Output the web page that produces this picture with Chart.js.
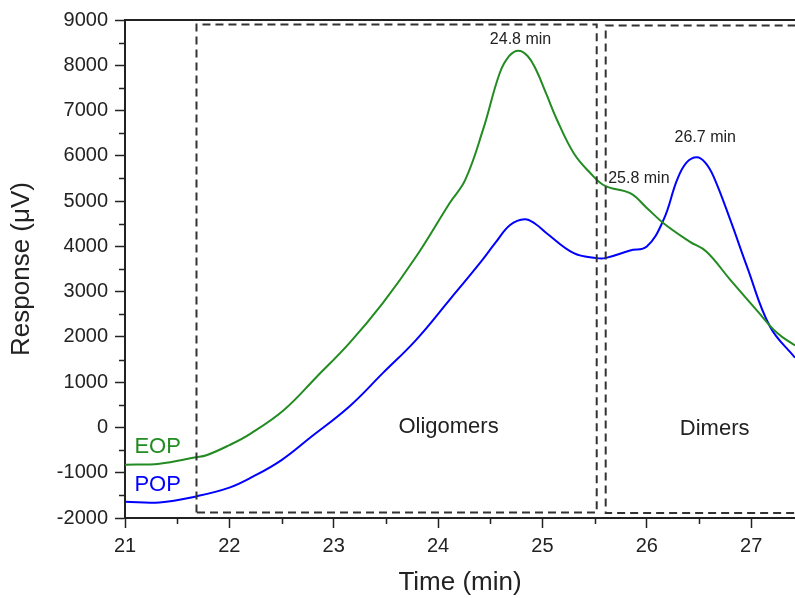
<!DOCTYPE html>
<html>
<head>
<meta charset="utf-8">
<script src="https://cdn.jsdelivr.net/npm/chart.js@4.4.1/dist/chart.umd.min.js"></script>
<style>
  html, body { margin: 0; padding: 0; background: #fff; }
  #wrap { width: 795px; height: 598px; }
</style>
</head>
<body>
<div id="wrap"><canvas id="gpc" width="795" height="598"></canvas></div>
<script>
// retention time (min) and detector response (µV)
const eopTime = [21.0, 21.33, 21.68, 21.78, 22.0, 22.2, 22.52, 22.84, 23.15, 23.47, 23.79, 24.11, 24.26, 24.43, 24.59, 24.68, 24.77, 24.86, 24.94, 25.04, 25.14, 25.3, 25.46, 25.6, 25.84, 26.0, 26.16, 26.41, 26.57, 26.8, 27.05, 27.25, 27.42];
const eopResp = [-823, -800, -660, -615, -390, -140, 380, 1126, 1863, 2746, 3775, 4954, 5468, 6572, 7823, 8200, 8322, 8200, 7896, 7350, 6792, 6057, 5616, 5335, 5174, 4850, 4512, 4106, 3885, 3260, 2598, 2084, 1810];

const popTime = [21.0, 21.33, 21.68, 22.0, 22.23, 22.5, 22.77, 23.15, 23.47, 23.79, 24.11, 24.4, 24.55, 24.69, 24.83, 24.93, 25.04, 25.3, 25.52, 25.6, 25.84, 26.0, 26.16, 26.29, 26.38, 26.48, 26.56, 26.64, 26.8, 26.96, 27.18, 27.42];
const popResp = [-1640, -1655, -1523, -1330, -1082, -720, -234, 464, 1200, 1936, 2818, 3629, 4080, 4470, 4600, 4500, 4291, 3850, 3740, 3740, 3908, 3996, 4585, 5468, 5850, 5969, 5850, 5541, 4585, 3554, 2230, 1540];

// dashed fraction windows
const oligoBoxT = [21.685, 21.685, 25.52, 25.52, 21.685];
const oligoBoxR = [-1880, 8900, 8900, -1880, -1880];
const dimerBoxT = [27.8, 25.606, 25.606, 27.8];
const dimerBoxR = [8880, 8880, -1890, -1890];

// text labels placed in data coordinates
const noteText = ["24.8 min", "26.7 min", "25.8 min"];
const noteT = [24.79, 26.56, 25.63];
const noteR = [8560, 6395, 5490];
const regionText = ["Oligomers", "Dimers"];
const regionT = [24.1, 26.65];
const regionR = [15, -30];
const seriesText = ["EOP", "POP"];
const seriesT = [21.09, 21.09];
const seriesR = [-420, -1265];

const xTicks = [21, 22, 23, 24, 25, 26, 27];

function pts(xs, ys) {
  return xs.map((x, i) => ({ x: x, y: ys[i] }));
}

const ink = "#222";
const font = "'Liberation Sans', Arial, sans-serif";

const extras = {
  id: "extras",
  afterDraw(chart) {
    const ctx = chart.ctx;
    const xs = chart.scales.x, ys = chart.scales.y;
    const a = chart.chartArea;
    ctx.save();
    // top frame line
    ctx.strokeStyle = ink;
    ctx.lineWidth = 2;
    ctx.beginPath();
    ctx.moveTo(a.left, a.top);
    ctx.lineTo(a.right, a.top);
    ctx.stroke();
    // minor ticks
    ctx.lineWidth = 1.5;
    ctx.beginPath();
    for (let v = -1500; v < 9000; v += 1000) {
      const py = Math.round(ys.getPixelForValue(v)) + 0.5;
      ctx.moveTo(a.left - 6, py);
      ctx.lineTo(a.left, py);
    }
    for (let v = 21.5; v < xs.max; v += 1) {
      const px = Math.round(xs.getPixelForValue(v)) + 0.5;
      ctx.moveTo(px, a.bottom);
      ctx.lineTo(px, a.bottom + 6);
    }
    ctx.stroke();

    ctx.textBaseline = "middle";
    ctx.fillStyle = ink;
    ctx.font = "16px " + font;
    noteText.forEach((t, i) => {
      ctx.textAlign = i === 2 ? "left" : "center";
      ctx.fillText(t, xs.getPixelForValue(noteT[i]), ys.getPixelForValue(noteR[i]));
    });
    ctx.textAlign = "center";
    ctx.font = "22px " + font;
    regionText.forEach((t, i) => {
      ctx.fillText(t, xs.getPixelForValue(regionT[i]), ys.getPixelForValue(regionR[i]));
    });
    ctx.textAlign = "left";
    const seriesColor = ["#228B22", "#0000ff"];
    seriesText.forEach((t, i) => {
      ctx.fillStyle = seriesColor[i];
      ctx.fillText(t, xs.getPixelForValue(seriesT[i]), ys.getPixelForValue(seriesR[i]));
    });
    ctx.restore();
  }
};

const boxStyle = {
  borderColor: "#333",
  borderWidth: 2,
  borderDash: [8, 5],
  pointRadius: 0,
  tension: 0,
  fill: false
};

new Chart(document.getElementById("gpc"), {
  type: "line",
  data: {
    datasets: [
      Object.assign({ label: "oligomers", data: pts(oligoBoxT, oligoBoxR) }, boxStyle),
      Object.assign({ label: "dimers", data: pts(dimerBoxT, dimerBoxR) }, boxStyle),
      {
        label: "EOP",
        data: pts(eopTime, eopResp),
        borderColor: "#228B22",
        borderWidth: 2,
        pointRadius: 0,
        tension: 0.4,
        fill: false
      },
      {
        label: "POP",
        data: pts(popTime, popResp),
        borderColor: "#0000ff",
        borderWidth: 2,
        pointRadius: 0,
        tension: 0.4,
        fill: false
      }
    ]
  },
  options: {
    responsive: false,
    animation: false,
    layout: { padding: { top: 20, right: 0, left: 0, bottom: 0 } },
    plugins: {
      legend: { display: false },
      tooltip: { enabled: false }
    },
    scales: {
      x: {
        type: "linear",
        min: 21,
        max: 27.42,
        afterBuildTicks: s => { s.ticks = xTicks.map(v => ({ value: v })); },
        afterFit: s => { s.height = 80; },
        ticks: { color: ink, font: { size: 20, family: font }, padding: 6, maxRotation: 0 },
        grid: { drawOnChartArea: false, drawTicks: true, tickLength: 10, tickColor: ink, tickWidth: 1.5 },
        border: { display: true, color: ink, width: 2 },
        title: { display: true, text: "Time (min)", color: ink, font: { size: 26, family: font }, padding: 0 }
      },
      y: {
        min: -2000,
        max: 9000,
        afterFit: s => { s.width = 125; },
        ticks: {
          stepSize: 1000,
          color: ink,
          font: { size: 20, family: font },
          padding: 7,
          callback: v => String(v)
        },
        grid: { drawOnChartArea: false, drawTicks: true, tickLength: 10, tickColor: ink, tickWidth: 1.5 },
        border: { display: true, color: ink, width: 2 },
        title: { display: true, text: "Response (μV)", color: ink, font: { size: 26, family: font }, padding: 6 }
      }
    }
  },
  plugins: [extras]
});
</script>
</body>
</html>
